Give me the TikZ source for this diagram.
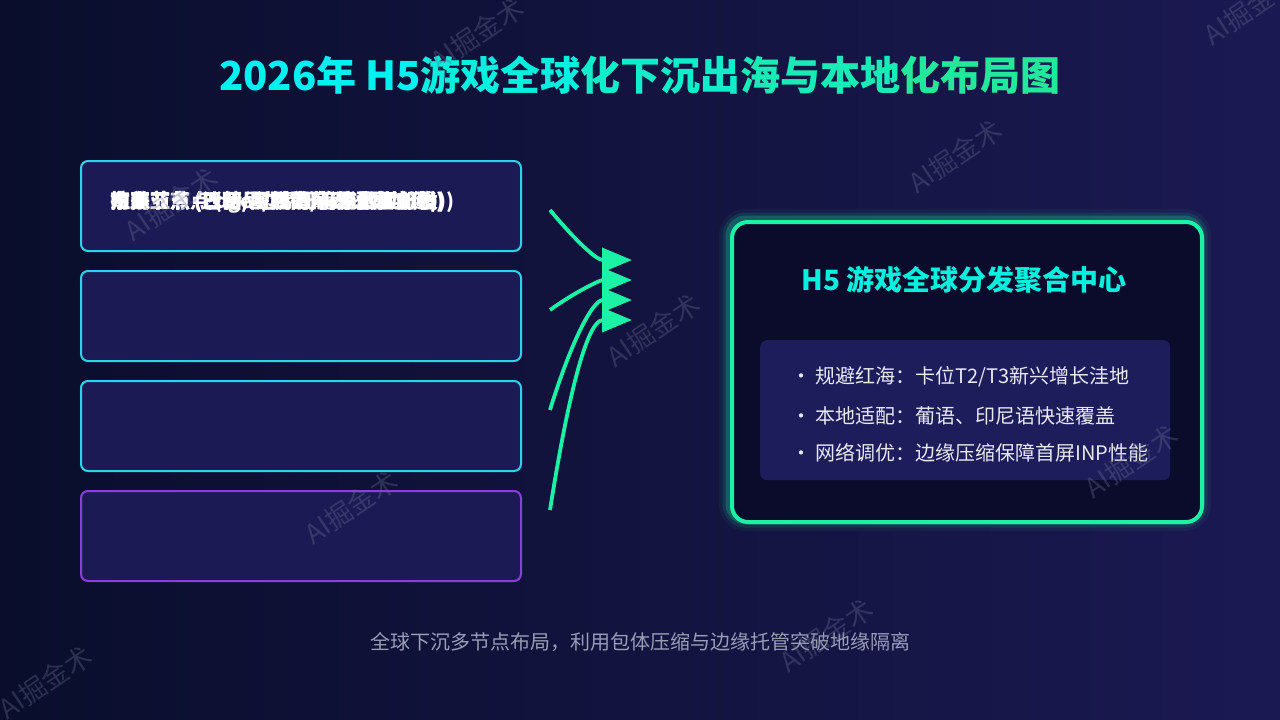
\documentclass[tikz,border=0pt]{standalone}
\usepackage{fontspec}
\setmainfont{Noto Sans CJK SC}
\usetikzlibrary{arrows.meta}

\definecolor{bgleft}{HTML}{0A0E2C}
\definecolor{bgright}{HTML}{1B1952}
\definecolor{boxfill}{HTML}{1C1A55}
\definecolor{cyanline}{HTML}{2BD4EA}
\definecolor{purpleline}{HTML}{8E3BE0}
\definecolor{flowgreen}{HTML}{1AF2A6}
\definecolor{hubfill}{HTML}{0B0B2B}
\definecolor{panelfill}{HTML}{1E1D5C}
\definecolor{tcyan}{HTML}{00F2F0}
\definecolor{tgreen}{HTML}{22E89C}
\definecolor{pointtext}{HTML}{E8E8F2}
\definecolor{notetext}{HTML}{9A9DB5}
\definecolor{marktext}{HTML}{6A6E90}

\tikzset{
  region/.style={draw=cyanline, line width=2pt, rounded corners=7pt, fill=boxfill,
    minimum width=440pt, minimum height=90pt, anchor=north west},
  regionlabel/.style={anchor=west, text=white, font=\fontsize{20}{24}\selectfont\bfseries, inner sep=0pt},
  feed/.style={draw=flowgreen, line width=3.8pt, -{Triangle[length=30pt, width=24pt]}},
  hubbox/.style={draw=flowgreen, line width=4pt, rounded corners=16pt, fill=hubfill,
    minimum width=470pt, minimum height=300pt, anchor=north west},
  panelbox/.style={fill=panelfill, rounded corners=7pt, minimum width=410pt, minimum height=140pt,
    anchor=north west, inner sep=0pt},
  point/.style={anchor=west, text=pointtext, font=\fontsize{20}{24}\selectfont, inner sep=0pt},
  watermark/.style={text=marktext, opacity=0.35, rotate=34, font=\fontsize{27}{30}\selectfont}
}

\begin{document}
\begin{tikzpicture}[x=1pt,y=-1pt]
\useasboundingbox (0,0) rectangle (1280,720);
\shade[left color=bgleft, right color=bgright] (0,0) rectangle (1280,720);

% title
\node[font=\fontsize{40}{48}\selectfont\bfseries, inner sep=0pt] (title) at (640,75)
  {{\color{tcyan}2026年 H5}{\color{tgreen!20!tcyan}游戏全球}{\color{tgreen!45!tcyan}化下沉出}{\color{tgreen!70!tcyan}海与本地}{\color{tgreen}化布局图}};

% market regions
\node[region] (sea) at (80,160) {};
\node[region] (latam) at (80,270) {};
\node[region] (mena) at (80,380) {};
\node[region, draw=purpleline] (asia) at (80,490) {};

\node[regionlabel] (l1) at (110,202) {东南亚节点 (印尼/越南/马来西亚分发))};
\node[regionlabel] (l2) at (110,202) {拉美节点 (巴西/墨西哥葡西语本地化)};
\node[regionlabel] (l3) at (110,202) {中东节点 (沙特/阿联酋阿语适配加速)};
\node[regionlabel] (l4) at (110,202) {南亚节点 (Edge 边缘托管轻量化部署)};

% flows
\coordinate (out1) at (550,210);
\coordinate (out2) at (550,310);
\coordinate (out3) at (550,410);
\coordinate (out4) at (550,510);
\coordinate (in1) at (632,260);
\coordinate (in2) at (632,280);
\coordinate (in3) at (632,300);
\coordinate (in4) at (632,320);

\draw[feed] (out1) .. controls (575,240) and (596,260) .. (in1);
\draw[feed] (out2) .. controls (575,292) and (600,280) .. (in2);
\draw[feed] (out3) .. controls (570,345) and (592,300) .. (in3);
\draw[feed] (out4) .. controls (565,415) and (585,320) .. (in4);

% hub
\foreach \w/\o in {22/0.05, 15/0.10, 9/0.22}
  \draw[flowgreen, line width=\w pt, opacity=\o, rounded corners=16pt] (730,220) rectangle (1200,520);
\node[hubbox] (hub) at (730,220) {};
\node[font=\fontsize{28}{32}\selectfont\bfseries, text=tcyan!80!tgreen, inner sep=0pt] (hubtitle) at (964,280) {H5 游戏全球分发聚合中心};
\node[panelbox] (panel) at (760,340) {};
\node[point] (p1) at (791,377) {·\hspace{4pt}规避红海：卡位T2/T3新兴增长洼地};
\node[point] (p2) at (791,416) {·\hspace{4pt}本地适配：葡语、印尼语快速覆盖};
\node[point] (p3) at (791,453) {·\hspace{4pt}网络调优：边缘压缩保障首屏INP性能};

% footnote
\node[text=notetext, font=\fontsize{20}{24}\selectfont, inner sep=0pt] (note) at (640,642)
  {全球下沉多节点布局，利用包体压缩与边缘托管突破地缘隔离};

% watermarks
\foreach \x/\y [count=\i] in {477/34, 955/156, 171/204, 653/330, 1131/461, 351/507, 826/635, 45/682, 1250/8}
  \node[watermark] (wm\i) at (\x,\y) {AI掘金术};
\end{tikzpicture}
\end{document}
